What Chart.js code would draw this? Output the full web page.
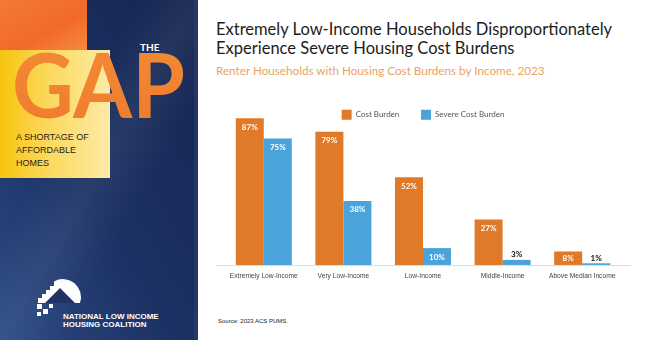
<!DOCTYPE html>
<html>
<head>
<meta charset="utf-8">
<script src="https://cdn.jsdelivr.net/npm/chart.js@4.4.1/dist/chart.umd.min.js"></script>
<style>
    body {
        margin: 0;
        width: 650px;
        height: 340px;
        overflow: hidden;
        background: #fff;
        position: relative;
        font-family: Lato, "Open Sans", sans-serif;
    }
    #panel { position: absolute; left: 0; top: 0; }
    .title {
        position: absolute;
        left: 216px;
        top: 20px;
        font-size: 16.5px;
        line-height: 18.5px;
        color: #1d1d1d;
        white-space: nowrap;
    }
    .subtitle {
        position: absolute;
        left: 216px;
        top: 62px;
        font-size: 11.7px;
        line-height: 16px;
        color: #e9a461;
        white-space: nowrap;
    }
    .source {
        position: absolute;
        left: 218px;
        top: 317px;
        font-family: "Liberation Sans", Arial, sans-serif;
        font-size: 6px;
        line-height: 9px;
        color: #222;
    }
    #chartWrap { position: absolute; left: 198px; top: 80px; width: 452px; height: 220px; }
</style>
</head>
<body>

<svg id="panel" width="198" height="340" viewBox="0 0 198 340">
    <defs>
        <linearGradient id="navy" x1="1" y1="0" x2="0" y2="1">
            <stop offset="0" stop-color="#152550"/>
            <stop offset="0.55" stop-color="#1c3163"/>
            <stop offset="1" stop-color="#2b4a84"/>
        </linearGradient>
        <linearGradient id="streak" x1="0" y1="0" x2="1" y2="1">
            <stop offset="0.35" stop-color="#ffffff" stop-opacity="0"/>
            <stop offset="0.5" stop-color="#ffffff" stop-opacity="0.06"/>
            <stop offset="0.65" stop-color="#ffffff" stop-opacity="0"/>
        </linearGradient>
        <linearGradient id="orangeTop" x1="0" y1="0" x2="1" y2="1">
            <stop offset="0" stop-color="#f47a36"/>
            <stop offset="0.6" stop-color="#f2692a"/>
            <stop offset="1" stop-color="#f58a3c"/>
        </linearGradient>
        <linearGradient id="yellow" x1="0" y1="0" x2="1" y2="0">
            <stop offset="0" stop-color="#f8c40e"/>
            <stop offset="0.45" stop-color="#fcd95f"/>
            <stop offset="1" stop-color="#feeaa6"/>
        </linearGradient>
        <linearGradient id="gapFill" x1="0" y1="0" x2="0" y2="1">
            <stop offset="0" stop-color="#f38c36"/>
            <stop offset="1" stop-color="#ef7a2c"/>
        </linearGradient>
    </defs>
    <rect x="0" y="0" width="198" height="340" fill="url(#navy)"/>
    <rect x="0" y="0" width="198" height="340" fill="url(#streak)"/>
    <rect x="194" y="0" width="4" height="340" fill="#2a3f6e" opacity="0.6"/>
    <rect x="0" y="0" width="87" height="50" fill="url(#orangeTop)"/>
    <rect x="0" y="50" width="110" height="128" fill="url(#yellow)"/>

    <text x="140" y="50.5" font-family="Lato, 'Open Sans', sans-serif" font-weight="700" font-size="10" fill="#fff">THE</text>
    <text x="12" y="118" font-family="Lato, 'Open Sans', sans-serif" font-weight="700" font-size="90"
          fill="url(#gapFill)" textLength="173" lengthAdjust="spacingAndGlyphs">GAP</text>

    <g font-family="'Liberation Sans', Arial, sans-serif" font-size="9" fill="#1e1e1e">
        <text x="16" y="140.3">A SHORTAGE OF</text>
        <text x="16" y="153.3">AFFORDABLE</text>
        <text x="16" y="166.3">HOMES</text>
    </g>

    <!-- NLIHC logo -->
    <path d="M38 303 L38 298 L42 298 L42 294 L46 294 L46 290 L50 290 L50 286 L54 286 L54 281.5
             A18 18 0 0 1 80 303 Z" fill="#fff"/>
    <path d="M45 303 L60 288 L75 303 Z" fill="#1f3465"/>
    <rect x="37" y="304" width="5" height="5" fill="#fff"/>
    <rect x="43" y="309" width="5" height="5" fill="#fff"/>
    <rect x="37" y="312" width="4" height="4" fill="#fff"/>
    <rect x="49" y="304" width="4" height="4" fill="#fff"/>
    <g font-family="'Liberation Sans', Arial, sans-serif" font-weight="700" font-size="8" fill="#fff">
        <text x="63" y="318.6">NATIONAL LOW INCOME</text>
        <text x="63" y="326.9">HOUSING COALITION</text>
    </g>
</svg>

<div class="title">Extremely Low-Income Households Disproportionately<br>Experience Severe Housing Cost Burdens</div>
<div class="subtitle">Renter Households with Housing Cost Burdens by Income, 2023</div>
<div class="source">Source: 2023 ACS PUMS.</div>

<div id="chartWrap"><canvas id="burdenChart" width="452" height="220"></canvas></div>

<script>
// Доли арендаторов с нагрузкой по жилью, %
const incomeGroups = ["Extremely Low-Income", "Very Low-Income", "Low-Income", "Middle-Income", "Above Median Income"];
const costBurden = [87, 79, 52, 27, 8];
const severeCostBurden = [75, 38, 10, 3, 1];

const orange = "#e07a28";
const blue = "#4ba3dc";

// Подписи значений над/внутри столбцов
const valueLabels = {
    id: "valueLabels",
    afterDatasetsDraw(chart) {
        const ctx = chart.ctx;
        ctx.save();
        ctx.font = "bold 8px Lato, 'Open Sans', sans-serif";
        ctx.textAlign = "center";
        ctx.textBaseline = "middle";
        chart.data.datasets.forEach((ds, i) => {
            chart.getDatasetMeta(i).data.forEach((bar, j) => {
                const v = ds.data[j];
                if (v >= 5) {
                    ctx.fillStyle = "#ffffff";
                    ctx.fillText(v + "%", bar.x, Math.min(bar.y + 9, (bar.y + bar.base) / 2 + 0.5));
                } else {
                    ctx.fillStyle = "#111111";
                    ctx.fillText(v + "%", bar.x, bar.y - 5);
                }
            });
        });
        ctx.restore();
    }
};

// Базовая линия чуть шире области графика
const baseline = {
    id: "baseline",
    beforeDatasetsDraw(chart) {
        const { ctx, chartArea } = chart;
        const y = Math.round(chart.scales.y.getPixelForValue(0)) + 0.5;
        ctx.save();
        ctx.strokeStyle = "#dcdcdc";
        ctx.lineWidth = 1;
        ctx.beginPath();
        ctx.moveTo(chartArea.left - 8, y);
        ctx.lineTo(chartArea.right + 9, y);
        ctx.stroke();
        ctx.restore();
    }
};

// Легенда сверху, но без отступа для области графика (столбцы заходят на её уровень)
const flatLegend = {
    id: "flatLegend",
    beforeLayout(chart) {
        const legend = chart.legend;
        if (legend && !legend._flat) {
            const fit = legend.fit;
            const draw = legend.draw;
            legend.fit = function () {
                fit.call(this);
                this._fullHeight = this.height;
                this.height = 0;
            };
            legend.draw = function () {
                const h = this.height;
                const b = this.bottom;
                this.height = this._fullHeight;
                this.bottom = this.top + this._fullHeight;
                draw.call(this);
                this.height = h;
                this.bottom = b;
            };
            legend._flat = true;
        }
    }
};

new Chart(document.getElementById("burdenChart"), {
    type: "bar",
    data: {
        labels: incomeGroups,
        datasets: [
            { label: "Cost Burden", data: costBurden, backgroundColor: orange },
            { label: "Severe Cost Burden", data: severeCostBurden, backgroundColor: blue }
        ]
    },
    options: {
        responsive: false,
        animation: false,
        layout: { padding: { left: 26, right: 28, top: 8, bottom: 12 } },
        datasets: {
            bar: { categoryPercentage: 0.704, barPercentage: 1.0 }
        },
        scales: {
            x: {
                grid: { display: false, drawTicks: false },
                border: { display: false },
                ticks: {
                    color: "#444",
                    font: { family: "'Liberation Sans', Arial, sans-serif", size: 6.7 },
                    padding: 7.5,
                    maxRotation: 0,
                    autoSkip: false
                }
            },
            y: { display: false, min: 0, max: 105 }
        },
        plugins: {
            legend: {
                position: "top",
                align: "center",
                labels: {
                    boxWidth: 10,
                    boxHeight: 10,
                    padding: 21.7,
                    color: "#555",
                    font: { family: "Lato, 'Open Sans', sans-serif", size: 8 }
                }
            },
            tooltip: { enabled: false }
        }
    },
    plugins: [flatLegend, baseline, valueLabels]
});
</script>
</body>
</html>
